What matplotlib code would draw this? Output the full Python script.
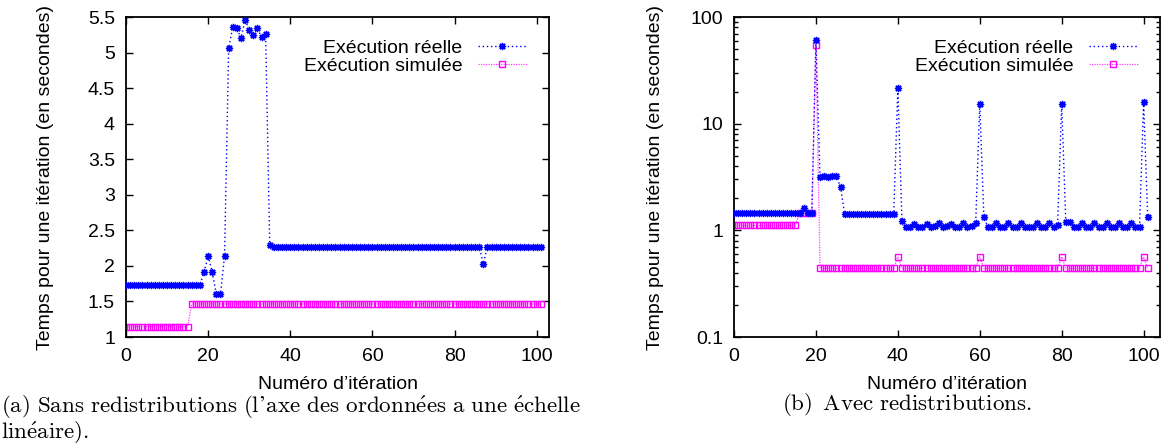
import matplotlib
matplotlib.use("Agg")
import matplotlib.pyplot as plt
from matplotlib.ticker import FixedLocator, FuncFormatter, LogLocator, NullFormatter
import numpy as np

W, H = 1168, 443

# ---------------- data ----------------
iterations = list(range(102))

# (a) without redistributions
real_a = ([1.73] * 19 +
          [1.91, 2.14, 1.91, 1.60, 1.60, 2.14,
           5.06, 5.36, 5.34, 5.20, 5.46, 5.32, 5.25, 5.34, 5.22, 5.26,
           2.29] +
          [2.27] * 9 + [2.26] + [2.27] * 26 + [2.26] + [2.27] * 14 +
          [2.03] +
          [2.27] * 14)
sim_a = [1.145] * 16 + [1.465] * 86

# (b) with redistributions
real_b = ([1.44] * 16 +
          [1.45, 1.62, 1.45, 1.45, 61.0,
           3.15, 3.25, 3.15, 3.20, 3.20, 2.55] +
          [1.43] * 13 +
          [21.7, 1.22,
           1.08, 1.08, 1.15, 1.08, 1.08, 1.15, 1.08, 1.09, 1.16,
           1.08, 1.09, 1.15, 1.08, 1.08, 1.16, 1.08, 1.09, 1.17,
           15.3, 1.33,
           1.07, 1.08, 1.16, 1.08, 1.08, 1.16, 1.08, 1.08, 1.16,
           1.08, 1.08, 1.08, 1.16, 1.08, 1.08, 1.16, 1.08, 1.12,
           15.3, 1.21, 1.19,
           1.08, 1.08, 1.16, 1.08, 1.08, 1.16, 1.08, 1.08, 1.16,
           1.08, 1.08, 1.16, 1.08, 1.08, 1.16, 1.08, 1.08,
           16.0, 1.32])
sim_b = ([1.11] * 16 + [1.45] * 4 + [55.0] +
         [0.44] * 19 + [0.565] +
         [0.44] * 19 + [0.565] +
         [0.44] * 19 + [0.565] +
         [0.44] * 19 + [0.565] + [0.44])

label_real = "Exécution réelle"
label_sim = "Exécution simulée"
ylabel = "Temps pour une itération (en secondes)"
xlabel = "Numéro d’itération"
caption_a = (r"$\mathrm{(a)\ Sans\ redistributions\ (l’axe\ des\ ordonn\acute{e}es\ a\ une\ \acute{e}chelle}$"
             "\n" r"$\mathrm{lin\acute{e}aire).}$")
caption_b = r"$\mathrm{(b)\ \,Avec\ redistributions.}$"

yticks_a = [1, 1.5, 2, 2.5, 3, 3.5, 4, 4.5, 5, 5.5]
yticks_b = [0.1, 1, 10, 100]
xticks = [0, 20, 40, 60, 80, 100]

# ---------------- style ----------------
plt.rcParams['font.family'] = ['Liberation Sans', 'DejaVu Sans']
plt.rcParams['mathtext.fontset'] = 'cm'
FS = 14
CFS = 16.6

fig = plt.figure(figsize=(W / 100, H / 100), dpi=100)


def px_axes(x0, y0, x1, y1):
    return fig.add_axes([x0 / W, 1 - y1 / H, (x1 - x0) / W, (y1 - y0) / H])


ax1 = px_axes(126, 17, 549, 337)
ax2 = px_axes(734, 17, 1160, 337)

blue_marker = (8, 2, 0)


def draw(ax, real, sim, ylab_x):
    ax.plot(iterations, real, color='#0000ff', linestyle=(0, (1, 2)), linewidth=1.0,
            marker=blue_marker, markersize=5.2, markeredgewidth=1.0, label=label_real, zorder=3)
    ax.plot(iterations, sim, color='#ff44ff', linestyle=(0, (1, 1)), linewidth=0.9,
            marker='s', markersize=4.3, markerfacecolor='none', markeredgecolor='#ff00ff',
            markeredgewidth=1.0, label=label_sim, zorder=2)
    for s in ax.spines.values():
        s.set_linewidth(1.3)
    ax.tick_params(which='both', direction='in', top=True, right=True, labelsize=FS,
                   width=1.0)
    ax.tick_params(which='major', length=5, pad=8)
    ax.tick_params(which='minor', length=3)
    ax.set_xticks(xticks)
    ax.set_xlabel(xlabel, fontsize=FS)
    ax.set_ylabel(ylabel, fontsize=FS)
    ax.xaxis.set_label_coords(0.5, -0.122)
    ax.yaxis.set_label_coords(ylab_x, 0.5)
    leg = ax.legend(loc='upper right', markerfirst=False, frameon=False, fontsize=FS,
                    handlelength=2.5, handletextpad=0.8, labelspacing=0.0,
                    borderaxespad=0.95, borderpad=0.2)
    return leg


draw(ax1, real_a, sim_a, -0.170)
ax1.set_xlim(0, 103)
ax1.set_ylim(1, 5.5)
ax1.yaxis.set_major_locator(FixedLocator(yticks_a))
ax1.yaxis.set_major_formatter(FuncFormatter(lambda v, p: '%g' % v))

draw(ax2, real_b, sim_b, -0.164)
ax2.set_yscale('log')
ax2.set_xlim(0, 104)
ax2.set_ylim(0.1, 100)
ax2.yaxis.set_major_locator(FixedLocator(yticks_b))
ax2.yaxis.set_major_formatter(FuncFormatter(lambda v, p: '%g' % v))
ax2.yaxis.set_minor_locator(LogLocator(base=10, subs=np.arange(2, 10)))
ax2.yaxis.set_minor_formatter(NullFormatter())

fig.text(1 / W, 1 - 394 / H, caption_a, fontsize=CFS, ha='left', va='top',
         linespacing=0.88)
fig.text(907 / W, 1 - 405 / H, caption_b, fontsize=CFS, ha='center', va='center')

fig.savefig('out.png', dpi=100)
